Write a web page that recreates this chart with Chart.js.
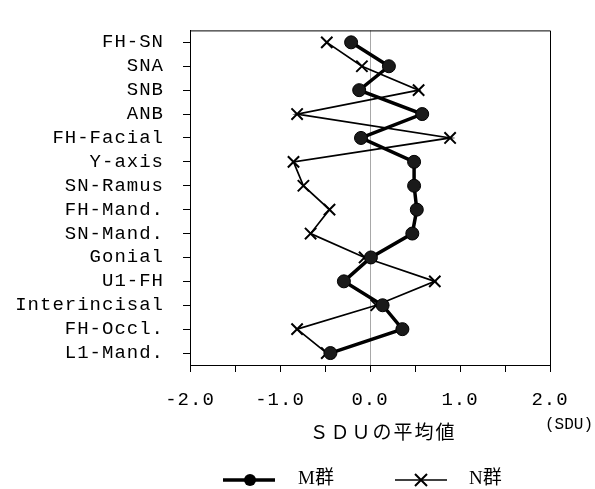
<!DOCTYPE html>
<html><head><meta charset="utf-8">
<script src="https://cdn.jsdelivr.net/npm/chart.js@4"></script>
<style>html,body{margin:0;padding:0;background:#fff}</style>
</head><body>
<canvas id="c" width="595" height="489" style="width:595px;height:489px;display:block"></canvas>
<script>
const categories = ['FH-SN','SNA','SNB','ANB','FH-Facial','Y-axis','SN-Ramus','FH-Mand.','SN-Mand.','Gonial','U1-FH','Interincisal','FH-Occl.','L1-Mand.'];
const mGroup = [-0.21, 0.21, -0.12, 0.58, -0.10, 0.49, 0.49, 0.52, 0.47, 0.01, -0.29, 0.14, 0.36, -0.44];
const nGroup = [-0.48, -0.09, 0.54, -0.81, 0.89, -0.85, -0.74, -0.45, -0.66, -0.06, 0.72, 0.07, -0.81, -0.48];
const seriesNames = ['M群', 'N群'];
const xMin = -2, xMax = 2, xStep = 0.5;
const axisTitle = 'ＳＤＵの平均値';
const unitLabel = '(SDU)';

const monoFont = {family: '"Liberation Mono", monospace', size: 19};
const spacing = '1px';

const extras = {
  id: 'extras',
  beforeUpdate(chart) { chart.ctx.letterSpacing = spacing; },
  beforeLayout(chart) { chart.ctx.letterSpacing = spacing; },
  beforeDraw(chart) { chart.ctx.letterSpacing = spacing; },
  afterDraw(chart) {
    const ctx = chart.ctx, a = chart.chartArea;
    ctx.save();
    ctx.strokeStyle = '#000'; ctx.lineWidth = 1;
    ctx.beginPath();
    ctx.moveTo(a.left, a.top + 0.5); ctx.lineTo(a.right + 0.5, a.top + 0.5);
    ctx.lineTo(a.right + 0.5, a.bottom);
    ctx.stroke();
    ctx.fillStyle = '#000';
    ctx.textBaseline = 'middle'; ctx.textAlign = 'center';
    ctx.letterSpacing = '2px';
    ctx.font = '19px "Noto Sans CJK JP"';
    ctx.fillText(axisTitle, 383, 432);
    ctx.letterSpacing = '0px';
    ctx.font = '16px "Liberation Mono"';
    ctx.fillText(unitLabel, 569, 425);
    // legend
    const ly = 480;
    const items = [
      {x0: 223, x1: 275, cx: 250, tx: 298, ds: chart.data.datasets[0]},
      {x0: 395, x1: 447, cx: 421, tx: 469, ds: chart.data.datasets[1]}
    ];
    items.forEach((it, i) => {
      ctx.strokeStyle = '#000';
      ctx.lineWidth = it.ds.borderWidth;
      ctx.beginPath(); ctx.moveTo(it.x0, ly); ctx.lineTo(it.x1, ly); ctx.stroke();
      if (i === 0) {
        ctx.beginPath(); ctx.arc(it.cx, ly, 6, 0, Math.PI * 2); ctx.fill();
      } else {
        ctx.lineWidth = 2;
        ctx.beginPath();
        ctx.moveTo(it.cx - 6, ly - 6); ctx.lineTo(it.cx + 6, ly + 6);
        ctx.moveTo(it.cx + 6, ly - 6); ctx.lineTo(it.cx - 6, ly + 6);
        ctx.stroke();
      }
      ctx.textAlign = 'left';
      ctx.font = '19px "Liberation Serif", "Noto Sans CJK JP"';
      ctx.fillText(it.ds.label, it.tx, ly - 1);
    });
    ctx.restore();
  }
};

new Chart(document.getElementById('c'), {
  type: 'line',
  data: {
    labels: categories,
    datasets: [
      {label: seriesNames[0], data: mGroup, borderColor: '#000', backgroundColor: '#111',
       borderWidth: 3.5, pointStyle: 'circle', pointRadius: 6.5, pointBorderWidth: 1,
       pointBackgroundColor: '#1a1a1a', pointBorderColor: '#000', tension: 0},
      {label: seriesNames[1], data: nGroup, borderColor: '#000', backgroundColor: '#000',
       borderWidth: 1.7, pointStyle: 'crossRot', pointRadius: 8, pointBorderWidth: 2, tension: 0}
    ]
  },
  options: {
    indexAxis: 'y',
    responsive: false,
    animation: false,
    devicePixelRatio: 1,
    layout: {padding: {top: 12, right: 45, left: 0, bottom: 0}},
    plugins: {legend: {display: false}, tooltip: {enabled: false}},
    scales: {
      x: {
        type: 'linear', position: 'bottom', min: xMin, max: xMax,
        ticks: {stepSize: xStep, autoSkip: false, maxRotation: 0, color: '#000', font: monoFont, padding: 17,
                callback: v => Number.isInteger(v) ? v.toFixed(1) : ''},
        grid: {color: c => (c.tick && c.tick.value === 0) ? '#a8a8a8' : 'rgba(0,0,0,0)',
               tickColor: '#000', tickLength: 7, drawOnChartArea: true, lineWidth: 1},
        border: {color: '#000', width: 1},
        afterFit: s => { s.height = 124; }
      },
      y: {
        type: 'category', offset: true,
        ticks: {color: '#000', font: monoFont, padding: 19, autoSkip: false},
        grid: {offset: false, drawOnChartArea: false, tickColor: '#000', tickLength: 7},
        border: {color: '#000', width: 1},
        afterFit: s => { s.width = 190; }
      }
    }
  },
  plugins: [extras]
});
</script>
</body></html>
